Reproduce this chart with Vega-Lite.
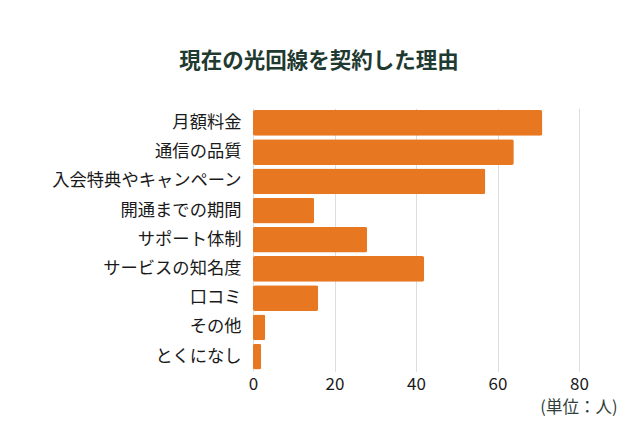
{
  "$schema": "https://vega.github.io/schema/vega-lite/v6.json",
  "autosize": "none",
  "width": 326,
  "height": 263,
  "padding": {"left": 253, "top": 108.25, "right": 61, "bottom": 54.75},
  "background": "white",
  "title": {
    "text": "現在の光回線を契約した理由",
    "font": "Noto Sans CJK JP",
    "fontSize": 21.5,
    "fontWeight": "bold",
    "color": "#1f3a30",
    "anchor": "middle",
    "frame": "group",
    "dx": -97,
    "offset": 36
  },
  "data": {
    "values": [
      {"reason": "月額料金", "count": 71},
      {"reason": "通信の品質", "count": 64},
      {"reason": "入会特典やキャンペーン", "count": 57},
      {"reason": "開通までの期間", "count": 15},
      {"reason": "サポート体制", "count": 28},
      {"reason": "サービスの知名度", "count": 42},
      {"reason": "口コミ", "count": 16},
      {"reason": "その他", "count": 3},
      {"reason": "とくになし", "count": 2}
    ]
  },
  "mark": {"type": "bar", "color": "#E87722", "cornerRadius": 2},
  "encoding": {
    "y": {
      "field": "reason",
      "type": "nominal",
      "sort": null,
      "scale": {"paddingInner": 0.12, "paddingOuter": 0.06},
      "axis": {
        "title": null,
        "ticks": false,
        "domain": false,
        "labelFont": "Noto Sans CJK JP",
        "labelFontSize": 17.3,
        "labelColor": "#1a1a1a",
        "labelPadding": 12,
        "labelLimit": 400
      }
    },
    "x": {
      "field": "count",
      "type": "quantitative",
      "scale": {"domain": [0, 80], "nice": false},
      "axis": {
        "values": [0, 20, 40, 60, 80],
        "title": "(単位：人)",
        "titleFont": "Noto Sans CJK JP",
        "titleFontSize": 16.5,
        "titleFontWeight": "normal",
        "titleColor": "#2f3e3a",
        "titleAlign": "right",
        "titleAnchor": "end",
        "titleX": 364,
        "titleY": 36,
        "titleBaseline": "middle",
        "ticks": false,
        "domain": false,
        "grid": true,
        "gridColor": "#dddddd",
        "gridWidth": 1,
        "labelFont": "Noto Sans CJK JP",
        "labelFontSize": 17,
        "labelColor": "#1a1a1a",
        "labelPadding": 5,
        "labelFlush": false
      }
    }
  },
  "config": {"view": {"stroke": null}}
}
